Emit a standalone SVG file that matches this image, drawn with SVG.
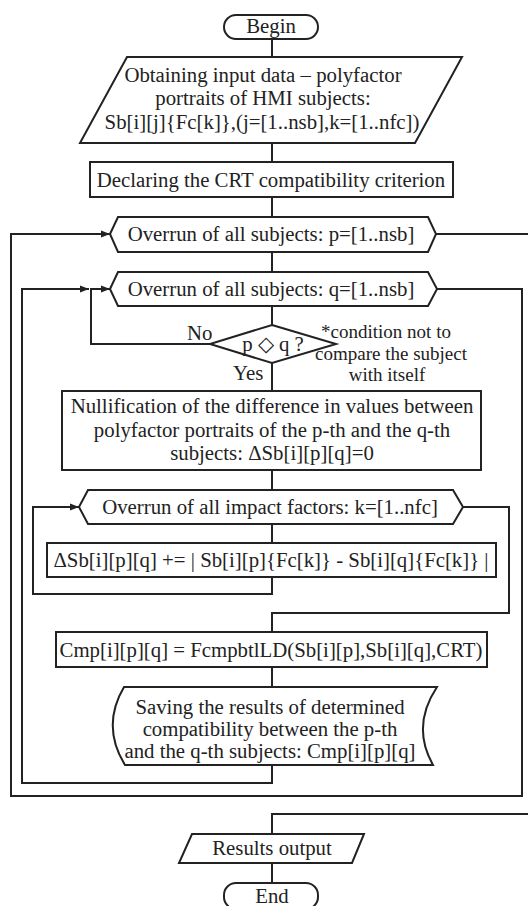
<svg xmlns="http://www.w3.org/2000/svg" width="528" height="906" viewBox="0 0 528 906">
<style>
.s{fill:#fff;stroke:#222;stroke-width:2}
.c{fill:none;stroke:#222;stroke-width:2}
text{font-family:"Liberation Serif","Times New Roman",serif;font-size:20.8px;fill:#222;text-anchor:middle}
.l{text-anchor:start}
.n{font-size:19px}
</style>
<defs>
<marker id="a" markerWidth="10" markerHeight="8" refX="9" refY="4" orient="auto" markerUnits="userSpaceOnUse">
<path d="M0,0.5 L9,4 L0,7.5 Z" fill="#222"/>
</marker>
</defs>
<rect width="528" height="906" fill="#fff"/>
<g id="connectors">
<path class="c" d="M272,39 V57"/>
<path class="c" d="M272,143 V162"/>
<path class="c" d="M272,197 V217"/>
<path class="c" d="M272,252 V272"/>
<path class="c" d="M272,306 V325"/>
<path class="c" d="M272,363 V391"/>
<path class="c" d="M272,470 V490"/>
<path class="c" d="M272,524 V543"/>
<path class="c" d="M272,577 V594 H33 V507 H79" marker-end="url(#a)"/>
<path class="c" d="M463,507 H509 V613 H272 V632"/>
<path class="c" d="M272,667 V687"/>
<path class="c" d="M272,765 V783 H22 V289 H89" marker-end="url(#a)"/>
<path class="c" d="M210,344 H91 V289 H110" marker-end="url(#a)"/>
<path class="c" d="M437,289 H522 V796 H11 V234 H110" marker-end="url(#a)"/>
<path class="c" d="M436,234 H528"/>
<path class="c" d="M528,814 H272 V834"/>
<path class="c" d="M272,863 V883"/>
</g>
<g id="begin">
<rect class="s" x="224" y="15" width="94" height="24" rx="12"/>
<text x="271" y="33">Begin</text>
</g>
<g id="input">
<polygon class="s" points="127,57 462,57 415,143 80,143"/>
<text x="263" y="82">Obtaining input data – polyfactor</text>
<text x="263" y="105">portraits of HMI subjects:</text>
<text x="262" y="129">Sb[i][j]{Fc[k]},(j=[1..nsb],k=[1..nfc])</text>
</g>
<g id="declare">
<rect class="s" x="90" y="162" width="363" height="35"/>
<text x="271" y="187">Declaring the CRT compatibility criterion</text>
</g>
<g id="loop-p">
<polygon class="s" points="110,234 118,217 428,217 436,234 428,252 118,252"/>
<text x="271" y="241">Overrun of all subjects: p=[1..nsb]</text>
</g>
<g id="loop-q">
<polygon class="s" points="110,289 118,272 428,272 437,289 428,306 118,306"/>
<text x="271" y="296">Overrun of all subjects: q=[1..nsb]</text>
</g>
<g id="decision">
<polygon class="s" points="272,325 336,344 272,363 210,344"/>
<text x="273" y="351">p ◇ q ?</text>
<text class="l" x="187" y="340">No</text>
<text class="l" x="233" y="380">Yes</text>
<text class="n" x="386" y="338">*condition not to</text>
<text class="n" x="391" y="359.5">compare the subject</text>
<text class="n" x="387" y="381">with itself</text>
</g>
<g id="nullify">
<rect class="s" x="62" y="391" width="419" height="79"/>
<text x="272" y="413">Nullification of the difference in values between</text>
<text x="272" y="436.5">polyfactor portraits of the p-th and the q-th</text>
<text x="272" y="460">subjects: ΔSb[i][p][q]=0</text>
</g>
<g id="loop-k">
<polygon class="s" points="79,507 88,490 453,490 463,507 453,524 88,524"/>
<text x="270" y="514">Overrun of all impact factors: k=[1..nfc]</text>
</g>
<g id="accumulate">
<rect class="s" x="47" y="543" width="449" height="34"/>
<text x="271" y="567">ΔSb[i][p][q] += | Sb[i][p]{Fc[k]} - Sb[i][q]{Fc[k]} |</text>
</g>
<g id="compute">
<rect class="s" x="56" y="632" width="431" height="35"/>
<text x="271" y="657">Cmp[i][p][q] = FcmpbtlLD(Sb[i][p],Sb[i][q],CRT)</text>
</g>
<g id="save">
<path class="s" d="M124,687 H437 Q411,726 433,765 H125 Q101,726 124,687 Z"/>
<text x="270" y="714">Saving the results of determined</text>
<text x="270" y="736">compatibility between the p-th</text>
<text x="270" y="758">and the q-th subjects: Cmp[i][p][q]</text>
</g>
<g id="output">
<polygon class="s" points="192,834 364,834 352,863 179,863"/>
<text x="272" y="855">Results output</text>
</g>
<g id="end">
<rect class="s" x="224" y="883" width="94" height="26" rx="12"/>
<text x="272" y="903">End</text>
</g>
</svg>
